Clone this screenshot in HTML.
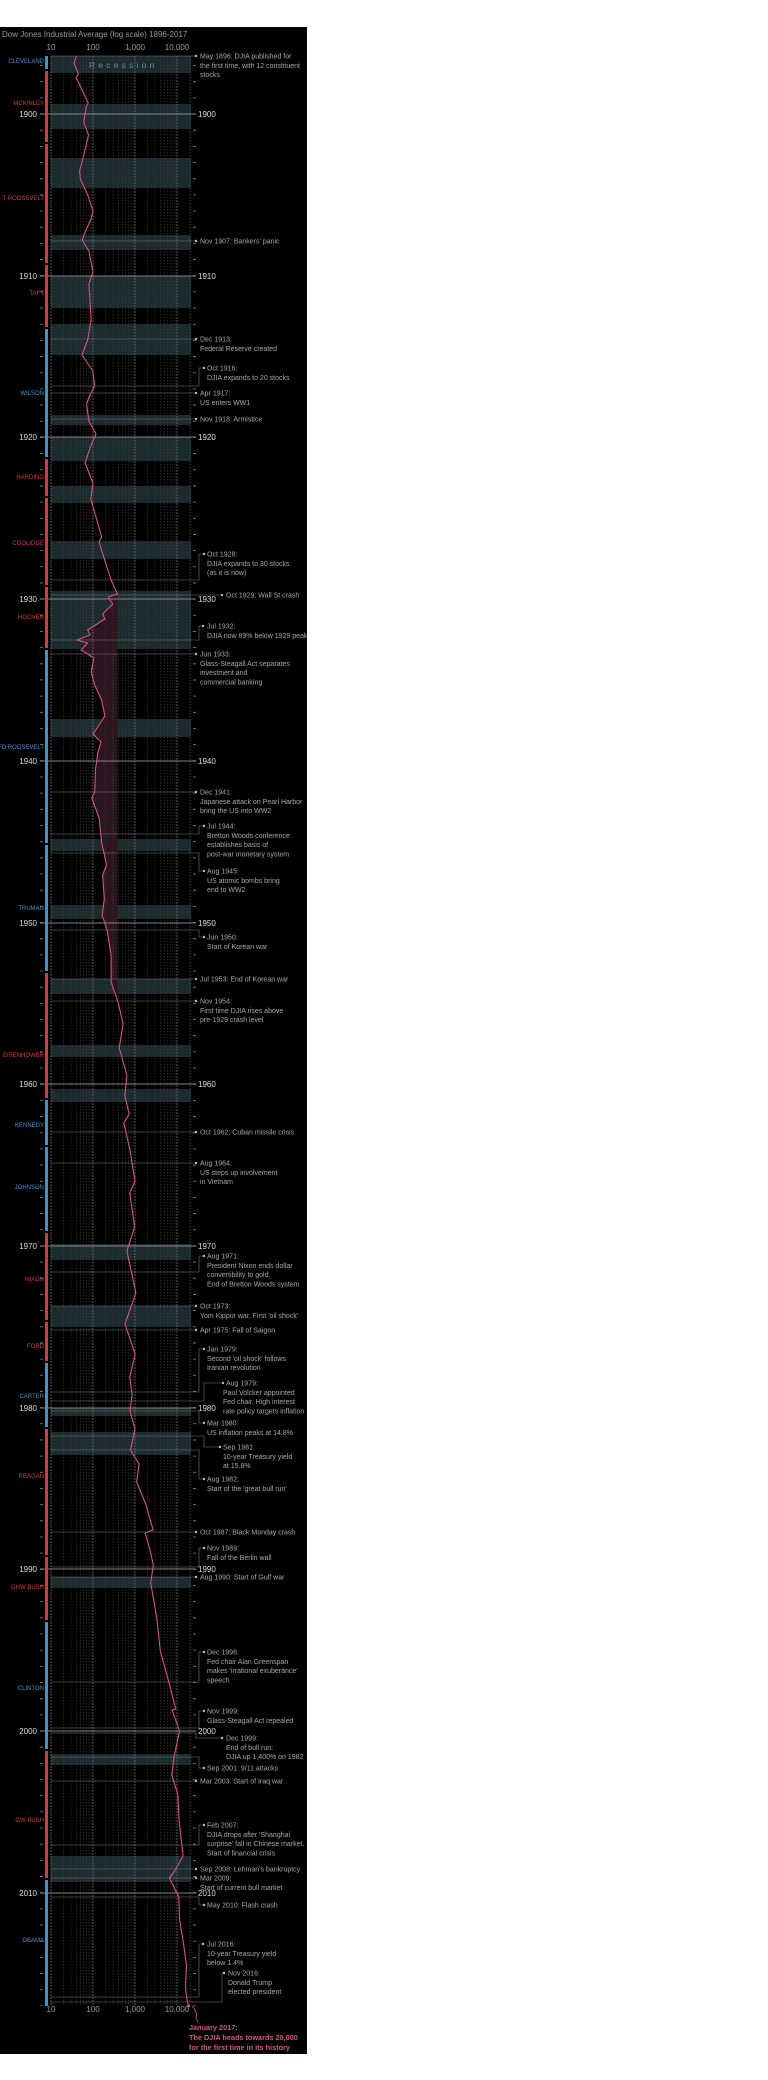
<!DOCTYPE html>
<html><head><meta charset="utf-8"><style>
html,body{margin:0;padding:0;background:#fff;}
svg{display:block;font-family:"Liberation Sans",sans-serif;}
.a{fill:#a8a8a8;font-size:7px;}
.yl{fill:#ddd;font-size:8px;}
.p{font-size:6px;}
.r{fill:#d23a44;} .b{fill:#4a90c8;}
.c{stroke:#7a7a7a;stroke-width:0.6;fill:none;}
.d{fill:#bbb;}
</style></head><body>
<svg width="768" height="2080" viewBox="0 0 768 2080" xmlns="http://www.w3.org/2000/svg">
<rect x="0" y="27" width="307" height="2027" fill="#000"/>
<text x="2" y="37" fill="#9a9a9a" font-size="8">Dow Jones Industrial Average (log scale) 1896-2017</text>
<g fill="#9a9a9a" font-size="8" text-anchor="middle">
<text x="51" y="50">10</text><text x="93" y="50">100</text><text x="135" y="50">1,000</text><text x="177" y="50">10,000</text>
<text x="51" y="2012">10</text><text x="93" y="2012">100</text><text x="135" y="2012">1,000</text><text x="177" y="2012">10,000</text>
</g>
<g fill="#1b2b2e">
<rect x="51" y="56" width="140" height="17"/><rect x="51" y="104" width="140" height="25"/>
<rect x="51" y="158" width="140" height="30"/><rect x="51" y="235" width="140" height="15"/>
<rect x="51" y="276" width="140" height="32"/><rect x="51" y="324" width="140" height="31"/>
<rect x="51" y="415" width="140" height="10"/><rect x="51" y="437" width="140" height="24"/>
<rect x="51" y="486" width="140" height="17"/><rect x="51" y="541" width="140" height="18"/>
<rect x="51" y="591" width="140" height="58"/><rect x="51" y="719" width="140" height="18"/>
<rect x="51" y="839" width="140" height="12"/><rect x="51" y="905" width="140" height="14"/>
<rect x="51" y="979" width="140" height="15"/><rect x="51" y="1045" width="140" height="12"/>
<rect x="51" y="1089" width="140" height="13"/><rect x="51" y="1244" width="140" height="16"/>
<rect x="51" y="1306" width="140" height="21"/><rect x="51" y="1408" width="140" height="8"/>
<rect x="51" y="1432" width="140" height="23"/><rect x="51" y="1577" width="140" height="11"/>
<rect x="51" y="1754" width="140" height="11"/><rect x="51" y="1856" width="140" height="26"/>
</g>
<text x="89" y="68" fill="#6a9093" font-size="8.5" letter-spacing="3.2">Recession</text>
<polygon fill="#2b1620" points="117.4,594 108.2,597 112.7,604 102.7,614 104.9,619 87.7,630 90,635 76.7,640 87.7,643 81.1,650 93.9,658 91.1,672 94.7,685 101.6,700 104.9,716 93,734 101,742 97.8,753 95.5,769 94.7,792 91.7,798 99.1,818 101.6,842 106.5,865 102.7,875 104.3,899 102.2,915 107.3,931 111.1,955 111.1,982 117.4,1000 117.4,594"/>
<g stroke="#3e3e3e" stroke-width="0.6" stroke-dasharray="1.5 1.5">
<line x1="63.6" y1="56" x2="63.6" y2="2006"/><line x1="71" y1="56" x2="71" y2="2006"/><line x1="76.3" y1="56" x2="76.3" y2="2006"/><line x1="80.4" y1="56" x2="80.4" y2="2006"/><line x1="83.7" y1="56" x2="83.7" y2="2006"/><line x1="86.5" y1="56" x2="86.5" y2="2006"/><line x1="88.9" y1="56" x2="88.9" y2="2006"/><line x1="91.1" y1="56" x2="91.1" y2="2006"/>
<line x1="105.6" y1="56" x2="105.6" y2="2006"/><line x1="113" y1="56" x2="113" y2="2006"/><line x1="118.3" y1="56" x2="118.3" y2="2006"/><line x1="122.4" y1="56" x2="122.4" y2="2006"/><line x1="125.7" y1="56" x2="125.7" y2="2006"/><line x1="128.5" y1="56" x2="128.5" y2="2006"/><line x1="130.9" y1="56" x2="130.9" y2="2006"/><line x1="133.1" y1="56" x2="133.1" y2="2006"/>
<line x1="147.6" y1="56" x2="147.6" y2="2006"/><line x1="155" y1="56" x2="155" y2="2006"/><line x1="160.3" y1="56" x2="160.3" y2="2006"/><line x1="164.4" y1="56" x2="164.4" y2="2006"/><line x1="167.7" y1="56" x2="167.7" y2="2006"/><line x1="170.5" y1="56" x2="170.5" y2="2006"/><line x1="172.9" y1="56" x2="172.9" y2="2006"/><line x1="175.1" y1="56" x2="175.1" y2="2006"/>
<line x1="189.6" y1="56" x2="189.6" y2="2006"/><line x1="191" y1="56" x2="191" y2="2006"/>
</g>
<g stroke="#777" stroke-width="0.7" stroke-dasharray="2 1">
<line x1="51" y1="56" x2="51" y2="2006"/><line x1="93" y1="56" x2="93" y2="2006"/><line x1="135" y1="56" x2="135" y2="2006"/><line x1="177" y1="56" x2="177" y2="2006"/>
</g>
<line x1="41.5" y1="65.1" x2="41.5" y2="2006" stroke="#888" stroke-width="3" stroke-dasharray="0.8 15.37"/>
<line x1="194.5" y1="65.1" x2="194.5" y2="2006" stroke="#888" stroke-width="3" stroke-dasharray="0.8 15.37"/>
<g stroke="#aaa" stroke-width="0.8">
<line x1="40" y1="114" x2="196" y2="114"/><line x1="40" y1="276" x2="196" y2="276"/><line x1="40" y1="437" x2="196" y2="437"/><line x1="40" y1="599" x2="196" y2="599"/><line x1="40" y1="761" x2="196" y2="761"/><line x1="40" y1="923" x2="196" y2="923"/><line x1="40" y1="1084" x2="196" y2="1084"/><line x1="40" y1="1246" x2="196" y2="1246"/><line x1="40" y1="1408" x2="196" y2="1408"/><line x1="40" y1="1569" x2="196" y2="1569"/><line x1="40" y1="1731" x2="196" y2="1731"/><line x1="40" y1="1893" x2="196" y2="1893"/>
</g>
<g class="yl" text-anchor="end">
<text x="37" y="117">1900</text><text x="37" y="279">1910</text><text x="37" y="440">1920</text><text x="37" y="602">1930</text><text x="37" y="764">1940</text><text x="37" y="926">1950</text><text x="37" y="1087">1960</text><text x="37" y="1249">1970</text><text x="37" y="1411">1980</text><text x="37" y="1572">1990</text><text x="37" y="1734">2000</text><text x="37" y="1896">2010</text>
</g>
<g class="yl">
<text x="198" y="117">1900</text><text x="198" y="279">1910</text><text x="198" y="440">1920</text><text x="198" y="602">1930</text><text x="198" y="764">1940</text><text x="198" y="926">1950</text><text x="198" y="1087">1960</text><text x="198" y="1249">1970</text><text x="198" y="1411">1980</text><text x="198" y="1572">1990</text><text x="198" y="1734">2000</text><text x="198" y="1896">2010</text>
</g>
<g>
<rect class="b" x="45" y="56" width="3" height="13"/>
<rect class="r" x="45" y="71" width="3" height="71"/><rect class="r" x="45" y="144" width="3" height="119"/><rect class="r" x="45" y="265" width="3" height="62"/>
<rect class="b" x="45" y="329" width="3" height="128"/>
<rect class="r" x="45" y="459" width="3" height="37"/><rect class="r" x="45" y="498" width="3" height="87"/><rect class="r" x="45" y="587" width="3" height="61"/>
<rect class="b" x="45" y="650" width="3" height="193"/><rect class="b" x="45" y="845" width="3" height="126"/>
<rect class="r" x="45" y="973" width="3" height="125"/>
<rect class="b" x="45" y="1100" width="3" height="45"/><rect class="b" x="45" y="1147" width="3" height="84"/>
<rect class="r" x="45" y="1233" width="3" height="87"/><rect class="r" x="45" y="1322" width="3" height="39"/>
<rect class="b" x="45" y="1363" width="3" height="64"/>
<rect class="r" x="45" y="1429" width="3" height="126"/><rect class="r" x="45" y="1557" width="3" height="63"/>
<rect class="b" x="45" y="1622" width="3" height="127"/>
<rect class="r" x="45" y="1751" width="3" height="127"/>
<rect class="b" x="45" y="1880" width="3" height="126"/>
</g>
<g class="p" text-anchor="end">
<text class="b" x="44" y="63">CLEVELAND</text>
<text class="r" x="44" y="105">MCKINLEY</text>
<text class="r" x="44" y="200">T ROOSEVELT</text>
<text class="r" x="44" y="295">TAFT</text>
<text class="b" x="44" y="395">WILSON</text>
<text class="r" x="44" y="479">HARDING</text>
<text class="r" x="44" y="545">COOLIDGE</text>
<text class="r" x="44" y="619">HOOVER</text>
<text class="b" x="44" y="749">FD ROOSEVELT</text>
<text class="b" x="44" y="910">TRUMAN</text>
<text class="r" x="44" y="1057">EISENHOWER</text>
<text class="b" x="44" y="1127">KENNEDY</text>
<text class="b" x="44" y="1189">JOHNSON</text>
<text class="r" x="44" y="1281">NIXON</text>
<text class="r" x="44" y="1348">FORD</text>
<text class="b" x="44" y="1398">CARTER</text>
<text class="r" x="44" y="1478">REAGAN</text>
<text class="r" x="44" y="1589">GHW BUSH</text>
<text class="b" x="44" y="1690">CLINTON</text>
<text class="r" x="44" y="1822">GW BUSH</text>
<text class="b" x="44" y="1942">OBAMA</text>
</g>
<polyline fill="none" stroke="#d4557f" stroke-width="1.1" stroke-linejoin="round" points="76.3,56 73.9,63 78.4,74 76,78 78.4,82 82.1,90 88.2,103 86.5,106 85.1,114 83.7,122 88.5,135 86,146 83,158 79.6,171 80.4,179 84,187 87.7,195 93,211 91.1,219 86,230 82.1,240 88.9,251 91,262 93,272 88.9,284 90,300 91.1,320 87.7,340 82.1,355 92.8,371 94.7,386 90,395 86.5,404 88.9,421 96,434 90,448 85.1,463 93,483 90.7,499 96.3,518 101.6,537 99.1,542 105.6,563 111.1,580 117.4,594 108.2,597 112.7,604 102.7,614 104.9,619 87.7,630 90,635 76.7,640 87.7,643 81.1,650 93.9,658 91.1,672 94.7,685 101.6,700 104.9,716 93,734 101,742 97.8,753 95.5,769 94.7,792 91.7,798 99.1,818 101.6,842 106.5,865 102.7,875 104.3,899 102.2,915 107.3,931 111.1,955 111.1,982 118.3,1003 123.1,1024 119.2,1048 126.9,1075 124.8,1096 129.3,1114 123.8,1123 130,1150 135,1181 129.8,1193 134.6,1227 126.9,1251 135.9,1293 125,1324 135.2,1354 129.8,1377 132,1395 130,1411 135,1429 130.5,1450 139.1,1464 136.6,1482 145.7,1504 153.1,1530 145.2,1533 150,1550 153.3,1565 150.7,1583 156.8,1618 160.3,1651 169.1,1683 175.7,1709 172,1710 179.6,1731 174,1757 171.8,1775 177.9,1795 179,1820 183.1,1856 174,1872 169.4,1878 178.8,1897 179.6,1920 183.1,1941 186.5,1965 185.6,1984 185.8,1991 187.4,2002 188.6,2006"/>
<g class="c">
<path d="M51 56H196"/><path d="M51 241H196"/><path d="M51 339H196"/>
<path d="M51 386H199V368H204"/><path d="M51 393H196"/><path d="M51 419H196"/>
<path d="M51 580H199V554H204"/><path d="M51 595H222"/>
<path d="M51 640H199V626H203"/><path d="M51 654H196"/><path d="M51 792H196"/>
<path d="M51 834H199V826H204"/><path d="M51 853H199V871H204"/>
<path d="M51 930H199V937H204"/><path d="M51 979H196"/><path d="M51 1001H196"/>
<path d="M51 1132H196"/><path d="M51 1163H196"/>
<path d="M51 1272H199V1256H204"/><path d="M51 1306H196"/><path d="M51 1330H196"/>
<path d="M51 1392H199V1349H204"/><path d="M51 1401H204V1383H223"/>
<path d="M51 1411H199V1423H204"/><path d="M51 1436H204V1447H220"/>
<path d="M51 1450H199V1479H204"/><path d="M51 1532H196"/>
<path d="M51 1567H199V1548H204"/><path d="M51 1577H196"/>
<path d="M51 1682H199V1652H204"/><path d="M51 1728H199V1711H204"/>
<path d="M51 1733H196V1738H222"/><path d="M51 1757H199V1768H204"/>
<path d="M51 1781H196"/><path d="M51 1845H199V1825H204"/>
<path d="M51 1869H196"/><path d="M51 1878H196"/><path d="M51 1897H199V1905H204"/>
<path d="M51 1997H199V1944H203"/><path d="M51 2002H222V1973H224"/>
</g>
<g class="d">
<circle cx="196" cy="56" r="1.2"/><circle cx="196" cy="241" r="1.2"/><circle cx="196" cy="339" r="1.2"/><circle cx="204" cy="368" r="1.2"/><circle cx="196" cy="393" r="1.2"/><circle cx="196" cy="419" r="1.2"/><circle cx="204" cy="554" r="1.2"/><circle cx="222" cy="595" r="1.2"/><circle cx="203" cy="626" r="1.2"/><circle cx="196" cy="654" r="1.2"/><circle cx="196" cy="792" r="1.2"/><circle cx="204" cy="826" r="1.2"/><circle cx="204" cy="871" r="1.2"/><circle cx="204" cy="937" r="1.2"/><circle cx="196" cy="979" r="1.2"/><circle cx="196" cy="1001" r="1.2"/><circle cx="196" cy="1132" r="1.2"/><circle cx="196" cy="1163" r="1.2"/><circle cx="204" cy="1256" r="1.2"/><circle cx="196" cy="1306" r="1.2"/><circle cx="196" cy="1330" r="1.2"/><circle cx="204" cy="1349" r="1.2"/><circle cx="223" cy="1383" r="1.2"/><circle cx="204" cy="1423" r="1.2"/><circle cx="220" cy="1447" r="1.2"/><circle cx="204" cy="1479" r="1.2"/><circle cx="196" cy="1532" r="1.2"/><circle cx="204" cy="1548" r="1.2"/><circle cx="196" cy="1577" r="1.2"/><circle cx="204" cy="1652" r="1.2"/><circle cx="204" cy="1711" r="1.2"/><circle cx="222" cy="1738" r="1.2"/><circle cx="204" cy="1768" r="1.2"/><circle cx="196" cy="1781" r="1.2"/><circle cx="204" cy="1825" r="1.2"/><circle cx="196" cy="1869" r="1.2"/><circle cx="196" cy="1878" r="1.2"/><circle cx="204" cy="1905" r="1.2"/><circle cx="203" cy="1944" r="1.2"/><circle cx="224" cy="1973" r="1.2"/>
</g>
<g class="a">
<text x="200" y="58.5">May 1896: DJIA published for<tspan x="200" dy="9.3">the first time, with 12 constituent</tspan><tspan x="200" dy="9.3">stocks</tspan></text>
<text x="200" y="243.5">Nov 1907: Bankers' panic</text>
<text x="200" y="341.5">Dec 1913:<tspan x="200" dy="9.3">Federal Reserve created</tspan></text>
<text x="207" y="370.5">Oct 1916:<tspan x="207" dy="9.3">DJIA expands to 20 stocks</tspan></text>
<text x="200" y="395.5">Apr 1917:<tspan x="200" dy="9.3">US enters WW1</tspan></text>
<text x="200" y="421.5">Nov 1918: Armistice</text>
<text x="207" y="556.5">Oct 1928:<tspan x="207" dy="9.3">DJIA expands to 30 stocks</tspan><tspan x="207" dy="9.3">(as it is now)</tspan></text>
<text x="226" y="597.5">Oct 1929: Wall St crash</text>
<text x="207" y="628.5">Jul 1932:<tspan x="207" dy="9.3">DJIA now 89% below 1929 peak</tspan></text>
<text x="200" y="656.5">Jun 1933:<tspan x="200" dy="9.3">Glass-Steagall Act separates</tspan><tspan x="200" dy="9.3">investment and</tspan><tspan x="200" dy="9.3">commercial banking</tspan></text>
<text x="200" y="794.5">Dec 1941:<tspan x="200" dy="9.3">Japanese attack on Pearl Harbor</tspan><tspan x="200" dy="9.3">bring the US into WW2</tspan></text>
<text x="207" y="828.5">Jul 1944:<tspan x="207" dy="9.3">Bretton Woods conference</tspan><tspan x="207" dy="9.3">establishes basis of</tspan><tspan x="207" dy="9.3">post-war monetary system</tspan></text>
<text x="207" y="873.5">Aug 1945:<tspan x="207" dy="9.3">US atomic bombs bring</tspan><tspan x="207" dy="9.3">end to WW2</tspan></text>
<text x="207" y="939.5">Jun 1950:<tspan x="207" dy="9.3">Start of Korean war</tspan></text>
<text x="200" y="981.5">Jul 1953: End of Korean war</text>
<text x="200" y="1003.5">Nov 1954:<tspan x="200" dy="9.3">First time DJIA rises above</tspan><tspan x="200" dy="9.3">pre-1929 crash level</tspan></text>
<text x="200" y="1134.5">Oct 1962: Cuban missile crisis</text>
<text x="200" y="1165.5">Aug 1964:<tspan x="200" dy="9.3">US steps up involvement</tspan><tspan x="200" dy="9.3">in Vietnam</tspan></text>
<text x="207" y="1258.5">Aug 1971:<tspan x="207" dy="9.3">President Nixon ends dollar</tspan><tspan x="207" dy="9.3">convertibility to gold.</tspan><tspan x="207" dy="9.3">End of Bretton Woods system</tspan></text>
<text x="200" y="1308.5">Oct 1973:<tspan x="200" dy="9.3">Yom Kippur war. First 'oil shock'</tspan></text>
<text x="200" y="1332.5">Apr 1975: Fall of Saigon</text>
<text x="207" y="1351.5">Jan 1979:<tspan x="207" dy="9.3">Second 'oil shock' follows</tspan><tspan x="207" dy="9.3">Iranian revolution</tspan></text>
<text x="226" y="1385.5">Aug 1979:<tspan x="223" dy="9.3">Paul Volcker appointed</tspan><tspan x="223" dy="9.3">Fed chair. High interest</tspan><tspan x="223" dy="9.3">rate policy targets inflation</tspan></text>
<text x="207" y="1425.5">Mar 1980:<tspan x="207" dy="9.3">US inflation peaks at 14.8%</tspan></text>
<text x="223" y="1449.5">Sep 1981:<tspan x="223" dy="9.3">10-year Treasury yield</tspan><tspan x="223" dy="9.3">at 15.8%</tspan></text>
<text x="207" y="1481.5">Aug 1982:<tspan x="207" dy="9.3">Start of the 'great bull run'</tspan></text>
<text x="200" y="1534.5">Oct 1987: Black Monday crash</text>
<text x="207" y="1550.5">Nov 1989:<tspan x="207" dy="9.3">Fall of the Berlin wall</tspan></text>
<text x="200" y="1579.5">Aug 1990: Start of Gulf war</text>
<text x="207" y="1654.5">Dec 1996:<tspan x="207" dy="9.3">Fed chair Alan Greenspan</tspan><tspan x="207" dy="9.3">makes 'irrational exuberance'</tspan><tspan x="207" dy="9.3">speech</tspan></text>
<text x="207" y="1713.5">Nov 1999:<tspan x="207" dy="9.3">Glass-Steagall Act repealed</tspan></text>
<text x="226" y="1740.5">Dec 1999:<tspan x="226" dy="9.3">End of bull run:</tspan><tspan x="226" dy="9.3">DJIA up 1,400% on 1982</tspan></text>
<text x="207" y="1770.5">Sep 2001: 9/11 attacks</text>
<text x="200" y="1783.5">Mar 2003: Start of Iraq war</text>
<text x="207" y="1827.5">Feb 2007:<tspan x="207" dy="9.3">DJIA drops after 'Shanghai</tspan><tspan x="207" dy="9.3">surprise' fall in Chinese market.</tspan><tspan x="207" dy="9.3">Start of financial crisis</tspan></text>
<text x="200" y="1871.5">Sep 2008: Lehman's bankruptcy</text>
<text x="200" y="1880.5">Mar 2009:<tspan x="200" dy="9.3">Start of current bull market</tspan></text>
<text x="207" y="1907.5">May 2010: Flash crash</text>
<text x="207" y="1946.5">Jul 2016:<tspan x="207" dy="9.3">10-year Treasury yield</tspan><tspan x="207" dy="9.3">below 1.4%</tspan></text>
<text x="228" y="1975.5">Nov 2016:<tspan x="228" dy="9.3">Donald Trump</tspan><tspan x="228" dy="9.3">elected president</tspan></text>
</g>
<path d="M192 2006 Q198 2012 196 2018 L198 2022" stroke="#d4557f" stroke-width="0.8" fill="none"/>
<circle cx="188.6" cy="2006" r="1.5" fill="#d4557f"/>
<g fill="#d4557f" font-size="7.3" font-weight="bold">
<text x="189" y="2030">January 2017:</text>
<text x="189" y="2040">The DJIA heads towards 20,000</text>
<text x="189" y="2050">for the first time in its history</text>
</g>
</svg>
</body></html>
